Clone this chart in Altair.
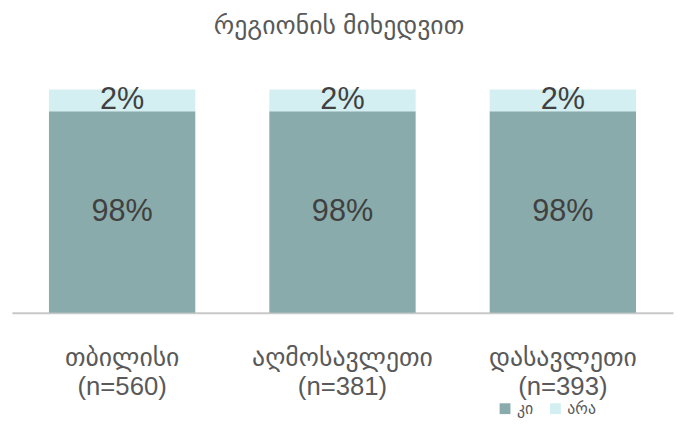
import altair as alt
import pandas as pd

regions = ["თბილისი|(n=560)", "აღმოსავლეთი|(n=381)", "დასავლეთი|(n=393)"]
answers = ["კი", "არა"]
# segment heights as drawn in the picture (share of bar)
yes_heights = [90.3, 90.3, 90.3]
no_heights = [9.7, 9.7, 9.7]
# data labels as printed
yes_labels = ["98%", "98%", "98%"]
no_labels = ["2%", "2%", "2%"]

rows = []
for r, yh, nh, yl, nl in zip(regions, yes_heights, no_heights, yes_labels, no_labels):
    rows.append({"region": r, "answer": answers[0], "value": yh, "label": yl, "order": 0})
    rows.append({"region": r, "answer": answers[1], "value": nh, "label": nl, "order": 1})
df = pd.DataFrame(rows)

FONT = "Liberation Sans, DejaVu Sans"

base = alt.Chart(df).encode(
    x=alt.X("region:N", sort=regions, title=None,
            scale=alt.Scale(paddingInner=0.336, paddingOuter=0.168),
            axis=alt.Axis(labelExpr="split(datum.label, '|')", labelAngle=0,
                          labelFontSize=26, labelColor="#595959", labelFont=FONT,
                          labelPadding=32, labelLineHeight=30, ticks=False,
                          labelLimit=0, labelOverlap=False,
                          domainColor="#c8c8c8", domainWidth=2)),
    y=alt.Y("value:Q", stack="zero", scale=alt.Scale(domain=[0, 100]), axis=None),
    order=alt.Order("order:Q"),
)

bars = base.mark_bar().encode(
    color=alt.Color("answer:N", sort=answers,
                    scale=alt.Scale(domain=answers, range=["#8aabab", "#d3eff1"]),
                    legend=alt.Legend(title=None, orient="none", legendX=491, legendY=315,
                                      direction="horizontal", symbolType="square",
                                      symbolSize=120, symbolStrokeWidth=0,
                                      labelFontSize=16, labelColor="#595959",
                                      labelFont=FONT, columnPadding=14)),
)

labels = base.mark_text(fontSize=31, color="#404040", font=FONT, baseline="middle").encode(
    y=alt.Y("value:Q", stack="zero", bandPosition=0.5),
    text=alt.Text("label:N"),
)

title = alt.Chart(pd.DataFrame({"t": ["რეგიონის მიხედვით"]})).mark_text(
    fontSize=26, color="#595959", font=FONT, baseline="middle"
).encode(x=alt.value(331), y=alt.value(-64), text="t:N")

chart = alt.layer(bars, labels, title).properties(
    width=669, height=226,
    autosize=alt.AutoSizeParams(type="none"),
    padding={"left": 4, "top": 80, "right": 2, "bottom": 110},
).configure_view(stroke=None)

chart.save("out.html", embed_options={"renderer": "svg", "actions": False})
